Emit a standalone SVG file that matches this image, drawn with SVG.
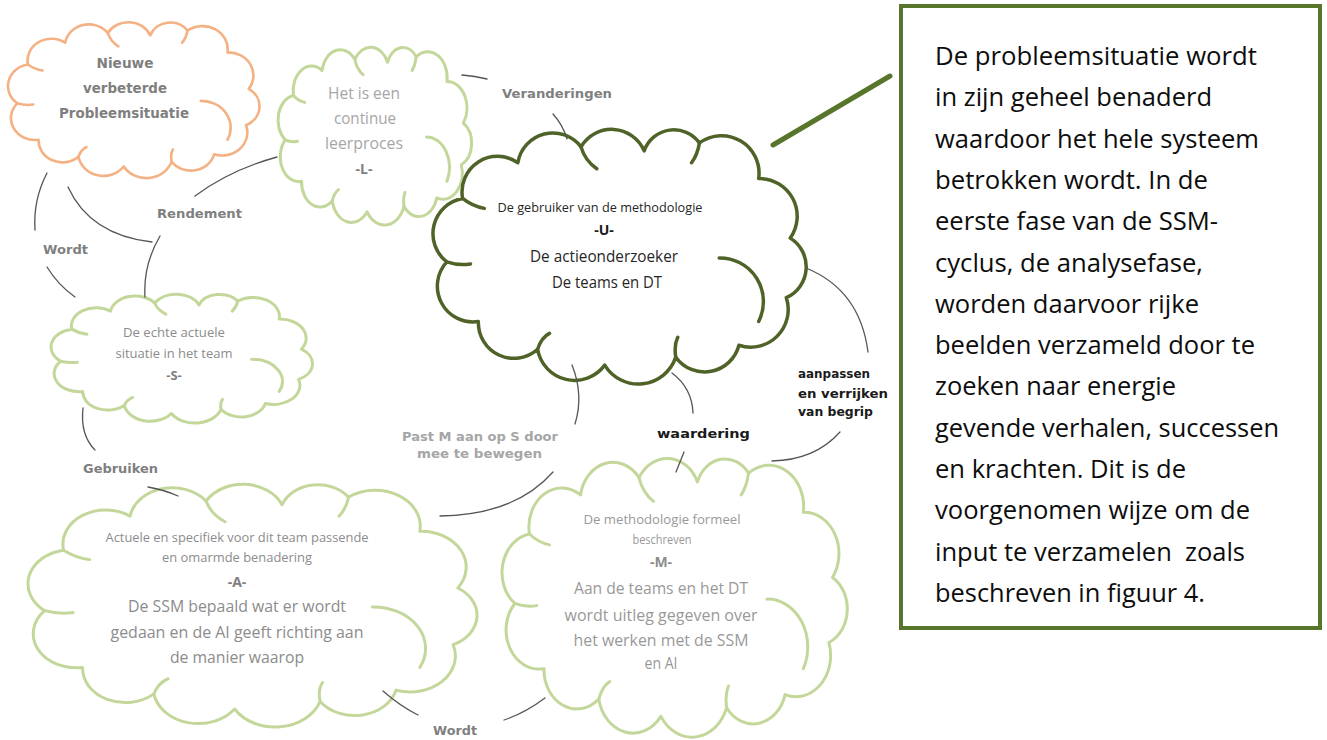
<svg xmlns="http://www.w3.org/2000/svg" xmlns:xlink="http://www.w3.org/1999/xlink" width="1327" height="740" viewBox="0 0 1327 740">
<style>
.outline{fill:#ffffff;vector-effect:non-scaling-stroke;stroke-linejoin:round}
.tuck{fill:none;vector-effect:non-scaling-stroke;stroke-linecap:round}
.orange{stroke:#f4b183;stroke-width:2.6}
.lgreen{stroke:#c4d79b;stroke-width:3}
.dgreen{stroke:#4f6228;stroke-width:3.5}
.conn path{fill:none;stroke:#555555;stroke-width:1.3;stroke-linecap:round}
.lbl{font-family:"DejaVu Sans",Verdana,sans-serif;font-weight:bold;font-size:13px;fill:#7f7f7f;text-anchor:middle}
.lbl.light{fill:#a6a6a6}
.lbl.dark{fill:#1a1a1a}
.ct{font-family:"Open Sans","Noto Sans",sans-serif;fill:#8c8c8c;text-anchor:middle}
.ct.b{font-weight:bold;fill:#7f7f7f}
.box{fill:#ffffff;stroke:#58762b;stroke-width:4}
.bt{font-family:"Open Sans","Noto Sans",sans-serif;font-size:25px;fill:#0d0d0d}
</style>
<defs>
<g id="cloud">
<path class="outline" d="M 12 70 A 18 18 0 0 1 20 38 A 18 18 0 0 1 48 20 A 18 18 0 0 1 80 12 A 18 18 0 0 1 112 14 A 16 16 0 0 1 140 10 A 19 19 0 0 1 170 28 A 19 19 0 0 1 186 58 A 17 17 0 0 1 184 88 A 19 19 0 0 1 160 112 A 18 18 0 0 1 128 118 A 20 20 0 0 1 92 122 A 19 19 0 0 1 58 114 A 18 18 0 0 1 28 100 A 18 18 0 0 1 12 70 Z"/>
<path class="tuck" d="M 150 68 A 22 22 0 0 1 170 100 M 80 12 Q 82 19 88 23 M 140 10 Q 139 16 136 20 M 12 70 Q 18 72 24 71 M 58 114 Q 60 108 64 106 M 128 118 Q 127 112 129 108 M 20 38 Q 25 42 31 43"/>
</g>
</defs>

<g id="node-nieuwe">
<use xlink:href="#cloud" href="#cloud" class="orange" transform="translate(1.35 18.36) scale(1.330 1.214)"/>
<text class="ct b" x="125" y="67.5" font-family="DejaVu Sans" font-size="14" textLength="57" lengthAdjust="spacingAndGlyphs" style="font-family:'DejaVu Sans',Verdana,sans-serif">Nieuwe</text>
<text class="ct b" x="125" y="92.5" font-size="14" textLength="84" lengthAdjust="spacingAndGlyphs" style="font-family:'DejaVu Sans',Verdana,sans-serif">verbeterde</text>
<text class="ct b" x="124" y="117.5" font-size="14" textLength="130" lengthAdjust="spacingAndGlyphs" style="font-family:'DejaVu Sans',Verdana,sans-serif">Probleemsituatie</text>
</g>

<g id="node-L">
<use xlink:href="#cloud" href="#cloud" class="lgreen" transform="translate(272.9 42.84) scale(1.024 1.385)"/>
<text class="ct" x="364" y="98.5" font-size="15.5" fill="#a6a6a6" style="fill:#a6a6a6" textLength="72" lengthAdjust="spacingAndGlyphs">Het is een</text>
<text class="ct" x="365" y="123.5" font-size="15.5" style="fill:#a6a6a6" textLength="62" lengthAdjust="spacingAndGlyphs">continue</text>
<text class="ct" x="364" y="148.5" font-size="15.5" style="fill:#a6a6a6" textLength="78" lengthAdjust="spacingAndGlyphs">leerproces</text>
<text class="ct b" x="364" y="173.5" font-size="14">-L-</text>
</g>

<g id="node-U">
<use xlink:href="#cloud" href="#cloud" class="dgreen" transform="translate(423.1 123.05) scale(1.974 1.984)"/>
<text class="ct" x="600" y="212" font-size="12" style="fill:#262626" textLength="205" lengthAdjust="spacingAndGlyphs">De gebruiker van de methodologie</text>
<text class="ct b" x="604" y="235" font-size="14" style="fill:#1a1a1a">-U-</text>
<text class="ct" x="604" y="261.5" font-size="15.5" style="fill:#262626" textLength="148" lengthAdjust="spacingAndGlyphs">De actieonderzoeker</text>
<text class="ct" x="607" y="287.5" font-size="15.5" style="fill:#262626" textLength="110" lengthAdjust="spacingAndGlyphs">De teams en DT</text>
</g>

<g id="node-S">
<use xlink:href="#cloud" href="#cloud" class="lgreen" transform="translate(44.1 291) scale(1.383 1.004)"/>
<text class="ct" x="174" y="336.5" font-size="12.5" textLength="102" lengthAdjust="spacingAndGlyphs">De echte actuele</text>
<text class="ct" x="174" y="357.5" font-size="12.5" textLength="117" lengthAdjust="spacingAndGlyphs">situatie in het team</text>
<text class="ct b" x="174" y="379.5" font-size="13">-S-</text>
</g>

<g id="node-A">
<use xlink:href="#cloud" href="#cloud" class="lgreen" transform="translate(16.1 478.3) scale(2.375 1.891)"/>
<text class="ct" x="237" y="542" font-size="12.5" textLength="263" lengthAdjust="spacingAndGlyphs">Actuele en specifiek voor dit team passende</text>
<text class="ct" x="237" y="562" font-size="12.5" textLength="150" lengthAdjust="spacingAndGlyphs">en omarmde benadering</text>
<text class="ct b" x="237" y="587" font-size="14">-A-</text>
<text class="ct" x="237" y="611.5" font-size="16" textLength="218" lengthAdjust="spacingAndGlyphs">De SSM bepaald wat er wordt</text>
<text class="ct" x="237" y="637.5" font-size="16" textLength="253" lengthAdjust="spacingAndGlyphs">gedaan en de AI geeft richting aan</text>
<text class="ct" x="237" y="662.5" font-size="16" textLength="134" lengthAdjust="spacingAndGlyphs">de manier waarop</text>
</g>

<g id="node-M">
<use xlink:href="#cloud" href="#cloud" class="lgreen" transform="translate(492.9 451.5) scale(1.826 2.171)"/>
<text class="ct" x="662" y="524" font-size="12.5" style="fill:#999999" textLength="157" lengthAdjust="spacingAndGlyphs">De methodologie formeel</text>
<text class="ct" x="662" y="544" font-size="12.5" style="fill:#999999" textLength="59" lengthAdjust="spacingAndGlyphs">beschreven</text>
<text class="ct b" x="661" y="567" font-size="14" style="fill:#8c8c8c">-M-</text>
<text class="ct" x="661" y="593.5" font-size="16" style="fill:#999999" textLength="174" lengthAdjust="spacingAndGlyphs">Aan de teams en het DT</text>
<text class="ct" x="661" y="620.5" font-size="16" style="fill:#999999" textLength="193" lengthAdjust="spacingAndGlyphs">wordt uitleg gegeven over</text>
<text class="ct" x="661" y="645.5" font-size="16" style="fill:#999999" textLength="175" lengthAdjust="spacingAndGlyphs">het werken met de SSM</text>
<text class="ct" x="661" y="668.5" font-size="16" style="fill:#999999" textLength="33" lengthAdjust="spacingAndGlyphs">en AI</text>
</g>

<g id="node-textbox">
<rect class="box" x="901" y="6" width="419" height="622"/>
<text class="bt" x="935" y="65" textLength="322" lengthAdjust="spacingAndGlyphs">De probleemsituatie wordt</text>
<text class="bt" x="935" y="106.3" textLength="277" lengthAdjust="spacingAndGlyphs">in zijn geheel benaderd</text>
<text class="bt" x="935" y="147.6" textLength="324" lengthAdjust="spacingAndGlyphs">waardoor het hele systeem</text>
<text class="bt" x="935" y="188.9" textLength="273" lengthAdjust="spacingAndGlyphs">betrokken wordt. In de</text>
<text class="bt" x="935" y="230.2" textLength="283" lengthAdjust="spacingAndGlyphs">eerste fase van de SSM-</text>
<text class="bt" x="935" y="271.5" textLength="268" lengthAdjust="spacingAndGlyphs">cyclus, de analysefase,</text>
<text class="bt" x="935" y="312.8" textLength="264" lengthAdjust="spacingAndGlyphs">worden daarvoor rijke</text>
<text class="bt" x="935" y="354.1" textLength="320" lengthAdjust="spacingAndGlyphs">beelden verzameld door te</text>
<text class="bt" x="935" y="395.4" textLength="241" lengthAdjust="spacingAndGlyphs">zoeken naar energie</text>
<text class="bt" x="935" y="436.7" textLength="344" lengthAdjust="spacingAndGlyphs">gevende verhalen, successen</text>
<text class="bt" x="935" y="478" textLength="251" lengthAdjust="spacingAndGlyphs">en krachten. Dit is de</text>
<text class="bt" x="935" y="519.3" textLength="315" lengthAdjust="spacingAndGlyphs">voorgenomen wijze om de</text>
<text class="bt" x="935" y="560.6" textLength="310" lengthAdjust="spacingAndGlyphs" xml:space="preserve">input te verzamelen  zoals</text>
<text class="bt" x="935" y="601.9" textLength="270" lengthAdjust="spacingAndGlyphs">beschreven in figuur 4.</text>
</g>

<g id="connectors" class="conn">
<path d="M 195 196 Q 230 170 277 157"/>
<path d="M 68 187 Q 90 235 152 242"/>
<path d="M 160 236 Q 143 265 145 297"/>
<path d="M 47 173 Q 33 200 35 230"/>
<path d="M 47 267 Q 58 285 75 297"/>
<path d="M 462 75 Q 475 76 487 79"/>
<path d="M 553 114 Q 563 125 567 139"/>
<path d="M 806 268 Q 860 290 868 352"/>
<path d="M 840 432 Q 815 460 772 461"/>
<path d="M 672 373 Q 692 388 693 413"/>
<path d="M 684 452 L 676 472"/>
<path d="M 572 365 Q 584 395 575 424"/>
<path d="M 553 472 Q 515 515 440 516"/>
<path d="M 83 408 Q 80 435 95 450"/>
<path d="M 148 487 Q 165 490 178 496"/>
<path d="M 383 691 Q 400 706 418 715"/>
<path d="M 545 698 Q 525 713 504 720"/>
<path d="M 773 145 L 890 76" style="stroke:#58762b;stroke-width:5"/>
</g>

<g id="labels">
<text class="lbl" x="557" y="97.5" textLength="110" lengthAdjust="spacingAndGlyphs">Veranderingen</text>
<text class="lbl" x="199.5" y="217.5" textLength="85" lengthAdjust="spacingAndGlyphs">Rendement</text>
<text class="lbl" x="65.5" y="253.5" textLength="45" lengthAdjust="spacingAndGlyphs">Wordt</text>
<text class="lbl" x="120.5" y="472.5" textLength="75" lengthAdjust="spacingAndGlyphs">Gebruiken</text>
<text class="lbl light" x="480" y="440.5" textLength="156" lengthAdjust="spacingAndGlyphs">Past M aan op S door</text>
<text class="lbl light" x="479.5" y="457.5" textLength="125" lengthAdjust="spacingAndGlyphs">mee te bewegen</text>
<text class="lbl dark" x="703.5" y="437.5" textLength="93" lengthAdjust="spacingAndGlyphs">waardering</text>
<text class="lbl dark" x="798" y="377.5" style="text-anchor:start" textLength="72" lengthAdjust="spacingAndGlyphs">aanpassen</text>
<text class="lbl dark" x="798" y="397.5" style="text-anchor:start" textLength="90" lengthAdjust="spacingAndGlyphs">en verrijken</text>
<text class="lbl dark" x="798" y="415.5" style="text-anchor:start" textLength="75" lengthAdjust="spacingAndGlyphs">van begrip</text>
<text class="lbl" x="455" y="734.5" textLength="44" lengthAdjust="spacingAndGlyphs">Wordt</text>
</g>
</svg>
